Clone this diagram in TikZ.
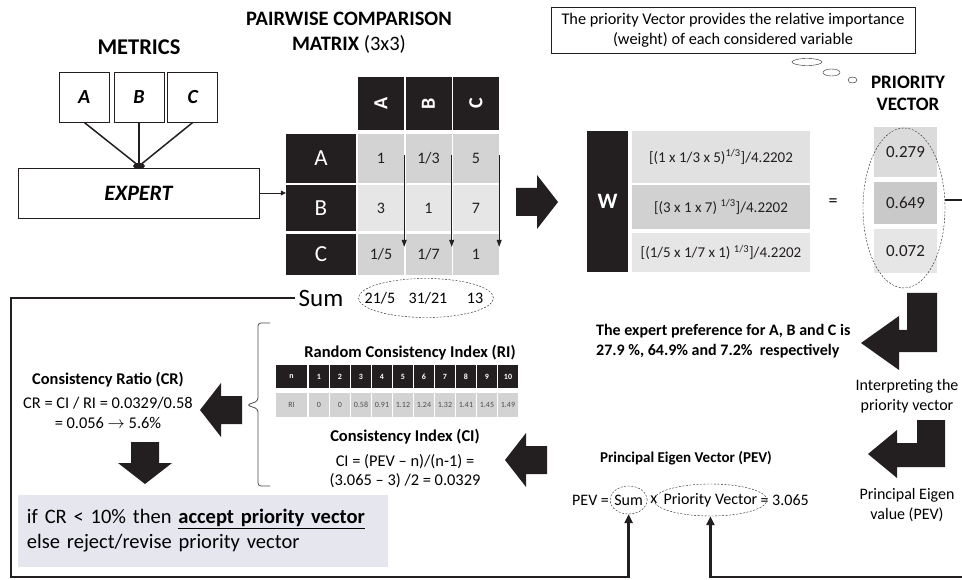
\documentclass[tikz,border=0pt]{standalone}
\usepackage{fontspec}
\setmainfont{Carlito}
\usetikzlibrary{arrows.meta, positioning, shapes.geometric}
\definecolor{ink}{HTML}{231F20}
\definecolor{grayA}{HTML}{D3D3D3}
\definecolor{grayB}{HTML}{E6E6E6}
\definecolor{wA}{HTML}{E1E1E1}
\definecolor{wB}{HTML}{D1D1D1}
\definecolor{pvA}{HTML}{DBDBDB}
\definecolor{pvB}{HTML}{C9C9C9}
\definecolor{crbox}{HTML}{E6E6EF}
\newcommand{\fsz}[2]{\fontsize{#1}{#2}\selectfont}
\tikzset{
    title/.style = {font=\bfseries\fsz{20.5}{25}, align=center, inner sep=0pt},
    metric/.style = {draw=ink, thick, minimum size=50pt, inner sep=0pt, font=\bfseries\itshape\fsz{20}{24}},
    hdr/.style = {fill=ink, text=white, inner sep=0pt},
    cell/.style = {fill=#1, text=ink, inner sep=0pt, font=\fsz{16}{18}},
    lbl/.style = {font=\fsz{16}{20}, align=center, inner sep=0pt},
    hd/.style = {font=\bfseries\fsz{16}{18}, inner sep=0pt},
    backline/.style = {draw=ink, line width=2.5pt},
    backarr/.style = {backline, -{Triangle[length=9pt,width=8pt]}},
    colarr/.style = {draw=ink, line width=0.8pt, -{Triangle[length=7pt,width=5pt]}},
    dashell/.style = {draw=ink, dash pattern=on 2pt off 1.5pt, ellipse, inner sep=0pt},
    rihd/.style = {fill=ink, text=white, font=\bfseries\fsz{8}{9}, minimum width=20pt, minimum height=23pt, inner sep=0pt},
    rival/.style = {fill=grayA, text=ink!80, font=\fsz{8}{9}, minimum width=20pt, minimum height=24pt, inner sep=0pt},
    blockarrow/.pic = {\fill[ink] (0,-14) -- (21,-14) -- (21,-27) -- (42,0) -- (21,27) -- (21,14) -- (0,14) -- cycle;}
}

\begin{document}
\begin{tikzpicture}[x=1pt, y=-1pt]
    \useasboundingbox (0,0) rectangle (962,580);

    \node[title, font=\bfseries\fsz{22.5}{26}] (metrics) at (139,47) {METRICS};
    \node[metric] (mB) at (139,97) {B};
    \node[metric, left=4pt of mB] (mA) {A};
    \node[metric, right=3pt of mB] (mC) {C};
    \node[draw=ink, thick, minimum width=241pt, minimum height=50pt, font=\bfseries\itshape\fsz{22}{24}] (expert) at (138.5,193) {EXPERT};
    \coordinate (join) at (139,166);
    \draw[ink, line width=1.5pt] (mA.south) -- (join);
    \draw[ink, line width=1.5pt] (mB.south) -- (join);
    \draw[ink, line width=1.5pt] (mC.south) -- (join);
    \fill[ink] (join) ellipse (6 and 3);

    \node[title] (pctitle) at (349,33) {PAIRWISE COMPARISON\\MATRIX {\mdseries (3x3)}};
    \foreach \c/\x in {A/381, B/428.5, C/476}
        \node[hdr, rotate=90, minimum width=53pt, minimum height=46pt, font=\bfseries\fsz{20}{24}] (h\c) at (\x,103.5) {\c};
    \node[hdr, minimum width=70pt, minimum height=49pt, font=\fsz{23}{26}] (rA) at (321,158.5) {A};
    \node[hdr, minimum width=70pt, minimum height=46pt, font=\fsz{23}{26}] (rB) at (321,208.5) {B};
    \node[hdr, minimum width=70pt, minimum height=41pt, font=\fsz{23}{26}] (rC) at (321,254.5) {C};
    \foreach \v [count=\i] in {1, 1/3, 5}
        \node[cell=grayA, minimum width=46pt, minimum height=49pt] (a\i) at ({333.5+47.5*\i},158.5) {\v};
    \foreach \v [count=\i] in {3, 1, 7}
        \node[cell=grayB, minimum width=46pt, minimum height=46pt] (b\i) at ({333.5+47.5*\i},208.5) {\v};
    \foreach \v [count=\i] in {1/5, 1/7, 1}
        \node[cell=grayA, minimum width=46pt, minimum height=41pt] (c\i) at ({333.5+47.5*\i},254.5) {\v};
    \foreach \i in {1,2,3}
        \draw[colarr] ([yshift=-21pt]a\i.north east) -- ([yshift=-13pt]c\i.north east);
    \draw[ink, thick, -{Triangle[length=5pt,width=5pt]}] (expert.east) -- (expert.east -| rB.west);

    \node[font=\fsz{25}{30}, inner sep=0pt] (sum) at (321,298) {Sum};
    \node[dashell, minimum width=135pt, minimum height=39pt] (sumell) at (426,298) {};
    \node[lbl] (s1) at (380,298) {21/5};
    \node[lbl] (s2) at (428,298) {31/21};
    \node[lbl] (s3) at (475,298) {13};

    \pic at (516,202) {blockarrow};
    \node[hdr, minimum width=41pt, minimum height=141pt, font=\bfseries\fsz{22}{24}] (w) at (607.5,201.5) {W};
    \node[cell=wA, minimum width=178pt, minimum height=52pt, font=\fsz{15}{18}] (w1) at (721,157) {[(1 x 1/3 x 5)\textsuperscript{1/3}]/4.2202};
    \node[cell=wB, minimum width=178pt, minimum height=44pt, font=\fsz{15}{18}] (w2) at (721,207) {[(3 x 1 x 7) \textsuperscript{1/3}]/4.2202};
    \node[cell=grayB, minimum width=178pt, minimum height=39pt, font=\fsz{15}{18}] (w3) at (721,252.5) {[(1/5 x 1/7 x 1) \textsuperscript{1/3}]/4.2202};
    \node[lbl, font=\fsz{18}{20}] (eq) at (833,203) {=};

    \node[title, font=\bfseries\fsz{19}{22}] (pvtitle) at (908,93) {PRIORITY\\VECTOR};
    \node[cell=pvA, minimum width=63pt, minimum height=50pt, font=\fsz{17}{20}] (pv1) at (905.5,152) {0.279};
    \node[cell=pvB, minimum width=63pt, minimum height=42pt, font=\fsz{17}{20}] (pv2) at (905.5,203) {0.649};
    \node[cell=grayB, minimum width=63pt, minimum height=44pt, font=\fsz{17}{20}] (pv3) at (905.5,251) {0.072};
    \node[dashell, minimum width=82pt, minimum height=160pt] (pvell) at (904,208) {};

    \node[draw=ink, thick, lbl, minimum width=364pt, minimum height=46pt, font=\fsz{16.3}{20}] (thought) at (733,30) {The priority Vector provides the relative importance\\(weight) of each considered variable};
    \draw[ink] (807,62) ellipse (15 and 3.5);
    \draw[ink] (831.5,72.5) ellipse (8.5 and 3.5);
    \draw[ink] (852.5,80) ellipse (4.5 and 3);

    \fill[ink] (907,293) -- (937,293) -- (937,352) -- (899,352) -- (899,370) -- (861,343) -- (899,316) -- (899,330) -- (907,330) -- cycle;
    \node[hd, font=\bfseries\fsz{16}{20}, align=left, anchor=west] (prefs) at (596,341) {The expert preference for A, B and C is\\27.9 \%, 64.9\% and 7.2\%\ \ respectively};
    \node[lbl] (interp) at (907,396) {Interpreting the\\priority vector};
    \fill[ink] (917,420) -- (945,420) -- (945,467) -- (897,467) -- (897,478) -- (868,454) -- (897,430) -- (897,443) -- (917,443) -- cycle;
    \node[lbl] (pevval) at (907,505.5) {Principal Eigen\\value (PEV)};

    \node[hd, font=\bfseries\fsz{15}{16}] (pevtitle) at (686,458) {Principal Eigen Vector (PEV)};
    \node[lbl, anchor=west] (pevlhs) at (572,500) {PEV =};
    \node[lbl, right=5pt of pevlhs] (pevsumtxt) {Sum};
    \node[lbl, right=7pt of pevsumtxt] (pevx) {x};
    \node[lbl, right=6pt of pevx] (pevpvtxt) {Priority Vector};
    \node[lbl, right=3pt of pevpvtxt] (pevrhs) {= 3.065};
    \node[dashell, minimum width=37pt, minimum height=28pt] (pevsum) at (pevsumtxt) {};
    \node[dashell, minimum width=113pt, minimum height=32pt] (pevpv) at (pevpvtxt) {};
    \pic[rotate=180] at (547,460) {blockarrow};

    \node[hd, font=\bfseries\fsz{16.5}{18}] (rititle) at (410,353) {Random Consistency Index (RI)};
    \node[rihd, minimum width=31pt] (rin) at (291.5,376.5) {n};
    \node[rival, minimum width=31pt] (rirow) at (291.5,405) {RI};
    \foreach \v [count=\i] in {0, 0, 0.58, 0.91, 1.12, 1.24, 1.32, 1.41, 1.45, 1.49} {
        \node[rihd] (rih\i) at ({298+21*\i},376.5) {\i};
        \node[rival] (riv\i) at ({298+21*\i},405) {\v};
    }
    \node[hd, font=\bfseries\fsz{16.5}{18}] (cititle) at (405,437) {Consistency Index (CI)};
    \node[lbl, font=\fsz{16.4}{18.5}] (citext) at (405,471) {CI = (PEV -- n)/(n-1) =\\(3.065 -- 3) /2 = 0.0329};
    \draw[ink!80, thick, rounded corners=3pt] (270,323) -- (258,323) -- (258,401) -- (247,405) -- (258,409) -- (258,486) -- (270,486);

    \node[hd, font=\bfseries\fsz{16.4}{18}] (crtitle) at (108,380) {Consistency Ratio (CR)};
    \node[lbl, font=\fsz{16.4}{20}] (crtext) at (108,413) {CR = CI / RI = 0.0329/0.58\\= 0.056 $\rightarrow$ 5.6\%};
    \pic[rotate=180] at (242,410) {blockarrow};
    \pic[rotate=-90] at (145,442) {blockarrow};
    \node[fill=crbox, minimum width=370pt, minimum height=72pt, text width=352pt, inner xsep=9pt, align=left, font=\fsz{20.5}{25}] (rule) at (203,531) {if CR < 10\% then \textbf{\underline{accept priority vector}}\\else reject/revise priority vector};

    \coordinate (ltop) at (11,298);
    \coordinate (lbot) at (11,577);
    \draw[backarr] ([xshift=-4pt]sum.west) -- (ltop) -- (lbot) -| (pevsum.south);
    \coordinate (rtop) at (966,200);
    \coordinate (rbot) at (966,577);
    \draw[backarr] (pvell.east |- rtop) -- (rtop) -- (rbot) -| (pevpv.south);
\end{tikzpicture}
\end{document}
